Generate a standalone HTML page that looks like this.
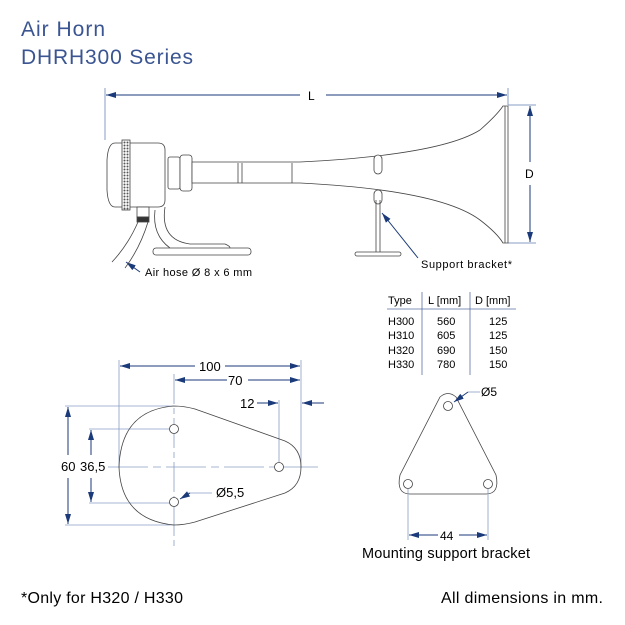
<!DOCTYPE html>
<html><head><style>
html,body{margin:0;padding:0;background:#fff;}
svg{display:block;font-family:"Liberation Sans",sans-serif;}
</style></head><body>
<svg width="625" height="625" viewBox="0 0 625 625" xmlns="http://www.w3.org/2000/svg">
<defs>
<marker id="a" viewBox="0 0 10 6" refX="10" refY="3" markerWidth="10" markerHeight="6" orient="auto-start-reverse" markerUnits="userSpaceOnUse"><path d="M0,0L10,3L0,6z" fill="#1b3a7a"/></marker>
<pattern id="k" width="3" height="3" patternUnits="userSpaceOnUse"><rect width="3" height="3" fill="#fff"/><circle cx="1.5" cy="1.5" r="1" fill="#555"/></pattern>
</defs>
<text x="21" y="36" font-size="21" fill="#3a5592" textLength="84">Air Horn</text>
<text x="21" y="64" font-size="21" fill="#3a5592" textLength="172">DHRH300 Series</text>

<g stroke="#1b3a7a" stroke-width="1" fill="none">
<line x1="105" y1="88" x2="105" y2="140" stroke="#8a9cc4"/>
<line x1="508" y1="88" x2="508" y2="105" stroke="#8a9cc4"/>
<line x1="106" y1="95" x2="300" y2="95" marker-start="url(#a)"/>
<line x1="326" y1="95" x2="507" y2="95" marker-end="url(#a)"/>
<line x1="508" y1="105" x2="536" y2="105" stroke="#8a9cc4"/>
<line x1="508" y1="243" x2="536" y2="243" stroke="#8a9cc4"/>
<line x1="530" y1="106" x2="530" y2="162" marker-start="url(#a)"/>
<line x1="530" y1="185" x2="530" y2="242" marker-end="url(#a)"/>
<line x1="418" y1="258" x2="382" y2="213" marker-end="url(#a)"/>
<line x1="140" y1="272" x2="126" y2="262" marker-end="url(#a)"/>
</g>
<text x="308" y="100" font-size="12">L</text>
<text x="525" y="178" font-size="12">D</text>

<g stroke="#444" stroke-width="0.8" fill="none">
<path d="M115,143 H158 Q165,143 165,150 V200 Q165,207 158,207 H115 Q108,207 107,190 V160 Q108,143 115,143z" fill="#fff"/>
<rect x="122" y="140" width="8" height="70" fill="url(#k)"/>
<rect x="168" y="157" width="12" height="32" rx="2" fill="#fff"/>
<rect x="180" y="155" width="12" height="36" rx="3" fill="#fff"/>
<path d="M192,162 L300,162 Q440,155 480,130 Q497,115 503,106 L508,106 L508,243 L503,243 Q497,233 480,220 Q440,190 300,183 L192,183z" fill="#fff"/>
<line x1="505" y1="106" x2="505" y2="243"/>
<line x1="238" y1="163" x2="238" y2="183"/><line x1="242" y1="163" x2="242" y2="183"/>
<line x1="292" y1="163" x2="292" y2="183"/>
<rect x="374" y="155" width="8" height="19" rx="4" fill="#fff"/>
<rect x="374" y="190" width="8" height="14" rx="4" fill="#fff"/>
<line x1="376" y1="200" x2="376" y2="252"/><line x1="380" y1="200" x2="380" y2="252"/>
<rect x="355" y="252" width="46" height="4" rx="2" fill="#fff"/>
<path d="M165,207 Q160,240 190,244 H225 Q230,246 230,248" />
<path d="M155,210 Q152,235 170,248"/>
<rect x="153" y="248" width="98" height="7" rx="3" fill="#fff"/>
<rect x="137" y="207" width="12" height="10" fill="#fff"/>
<rect x="137" y="217" width="12" height="5" fill="#333"/>
<path d="M138,222 Q128,245 112,262"/><path d="M148,222 Q140,248 125,268"/>
</g>
<text x="145" y="276" font-size="11" textLength="107">Air hose Ø 8 x 6 mm</text>
<text x="421" y="268" font-size="11" textLength="91">Support bracket*</text>

<g font-size="11">
<text x="388" y="304">Type</text><text x="428" y="304">L [mm]</text><text x="475" y="304">D [mm]</text>
<text x="388" y="325">H300</text><text x="437" y="325">560</text><text x="489" y="325">125</text>
<text x="388" y="339">H310</text><text x="437" y="339">605</text><text x="489" y="339">125</text>
<text x="388" y="354">H320</text><text x="437" y="354">690</text><text x="489" y="354">150</text>
<text x="388" y="368">H330</text><text x="437" y="368">780</text><text x="489" y="368">150</text>
</g>
<g stroke="#5a6fa4" stroke-width="0.8">
<line x1="387" y1="309" x2="516" y2="309"/>
<line x1="422" y1="292" x2="422" y2="375"/>
<line x1="470" y1="292" x2="470" y2="375"/>
</g>

<g stroke="#8a9cc4" stroke-width="0.8" fill="none">
<line x1="119" y1="360" x2="119" y2="468"/>
<line x1="174" y1="374" x2="174" y2="550" stroke-dasharray="30,4,6,4"/>
<line x1="301" y1="360" x2="301" y2="468"/>
<line x1="279" y1="400" x2="279" y2="462"/>
<line x1="108" y1="467" x2="318" y2="467" stroke-dasharray="40,5,8,5"/>
<line x1="65" y1="406" x2="174" y2="406"/>
<line x1="65" y1="525" x2="174" y2="525"/>
<line x1="89" y1="429" x2="172" y2="429"/>
<line x1="89" y1="503" x2="172" y2="503"/>
<line x1="188" y1="493" x2="212" y2="493"/>
</g>
<g stroke="#1b3a7a" stroke-width="1" fill="none">
<line x1="120" y1="366" x2="195" y2="366" marker-start="url(#a)"/>
<line x1="225" y1="366" x2="300" y2="366" marker-end="url(#a)"/>
<line x1="175" y1="380" x2="227" y2="380" marker-start="url(#a)"/>
<line x1="248" y1="380" x2="300" y2="380" marker-end="url(#a)"/>
<line x1="257" y1="403" x2="278" y2="403" marker-end="url(#a)"/>
<line x1="324" y1="403" x2="302" y2="403" marker-end="url(#a)"/>
<line x1="68" y1="407" x2="68" y2="455" marker-start="url(#a)"/>
<line x1="68" y1="478" x2="68" y2="524" marker-end="url(#a)"/>
<line x1="91" y1="430" x2="91" y2="455" marker-start="url(#a)"/>
<line x1="91" y1="478" x2="91" y2="502" marker-end="url(#a)"/>
<line x1="190" y1="493" x2="180" y2="499" marker-end="url(#a)"/>
</g>
<path d="M174,406 Q184,406 195,409 L285,441 Q301,448 301,467 Q301,486 285,493 L195,522 Q184,525 174,525 Q121,520 119,467 Q121,410 174,406z" stroke="#444" stroke-width="0.8" fill="none"/>
<g stroke="#444" stroke-width="0.8" fill="#fff">
<circle cx="174" cy="429" r="4.5"/><circle cx="174" cy="502" r="4.5"/><circle cx="279" cy="467" r="4.5"/>
</g>
<g font-size="13">
<text x="199" y="371">100</text><text x="228" y="385">70</text><text x="240" y="408">12</text>
<text x="61" y="471">60</text><text x="80" y="471">36,5</text><text x="216" y="497">Ø5,5</text>
</g>

<path d="M440,397 Q448,390 456,397 L496,475 Q500,494 486,494 L410,494 Q396,494 400,475z" stroke="#444" stroke-width="0.8" fill="none"/>
<g stroke="#444" stroke-width="0.8" fill="#fff">
<circle cx="448" cy="406" r="4.5"/><circle cx="408" cy="484" r="4.5"/><circle cx="488" cy="484" r="4.5"/>
</g>
<g stroke="#8a9cc4" stroke-width="0.8"><line x1="408" y1="489" x2="408" y2="540"/><line x1="488" y1="489" x2="488" y2="540"/><line x1="468" y1="392" x2="480" y2="392"/></g>
<g stroke="#1b3a7a" stroke-width="1"><line x1="409" y1="535" x2="438" y2="535" marker-start="url(#a)"/><line x1="459" y1="535" x2="487" y2="535" marker-end="url(#a)"/><line x1="468" y1="392" x2="454" y2="402" marker-end="url(#a)"/></g>
<text x="481" y="396" font-size="12">Ø5</text>
<text x="440" y="540" font-size="12">44</text>
<text x="362" y="558" font-size="14.5" textLength="168">Mounting support bracket</text>

<text x="21" y="603" font-size="16" textLength="162">*Only for H320 / H330</text>
<text x="441" y="603" font-size="16" textLength="162">All dimensions in mm.</text>
</svg>
</body></html>
